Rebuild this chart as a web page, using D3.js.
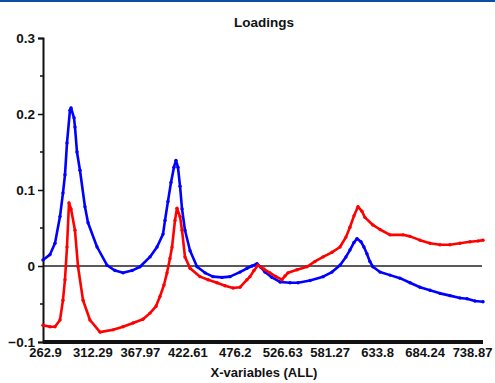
<!DOCTYPE html>
<html>
<head>
<meta charset="utf-8">
<script src="https://cdn.jsdelivr.net/npm/d3@7"></script>
<style>
  html, body { margin: 0; padding: 0; background: #fff; }
  svg { display: block; font-family: Arial, "Liberation Sans", sans-serif; }
</style>
</head>
<body>
<svg id="chart" width="495" height="383"></svg>
<script>
// ---- data ----
const title = "Loadings";
const xTitle = "X-variables (ALL)";
const xTickValues = [262.9, 312.29, 367.97, 422.61, 476.2, 526.63, 581.27, 633.8, 684.24, 738.87];
const yTickValues = [-0.1, 0, 0.1, 0.2, 0.3];
const yMinorTicks = [-0.05, 0.05, 0.15, 0.25];

const blueX = [260.8, 268.1, 273.3, 278.5, 281.6, 283.7, 285.8, 288.9, 290.0, 293.1, 294.1, 296.2, 299.3, 304.5, 307.7,
  317.7, 329.4, 338.8, 348.2, 358.8, 368.1, 379.6, 387.7, 394.6, 396.9, 400.3, 403.8, 407.2, 409.5, 411.8, 414.2, 416.5, 419.9,
  425.7, 433.6, 442.6, 451.6, 461.8, 470.8, 481.7, 489.2, 494.5, 499.8, 504.1, 508.3, 515.7, 524.3, 535.6, 544.8, 558.7, 573.7,
  583.8, 592.7, 599.3, 603.7, 608.2, 611.5, 615.9, 619.2, 622.5, 625.8, 629.1, 636.9, 647.5, 658.1, 668.8, 679.4, 690.5, 702.0,
  713.5, 725.0, 733.1, 742.3, 751.5];
const blueY = [0.008, 0.015, 0.03, 0.065, 0.096, 0.12, 0.162, 0.205, 0.208, 0.195, 0.183, 0.15, 0.126, 0.078, 0.057,
  0.025, 0.001, -0.006, -0.009, -0.006, -0.001, 0.012, 0.025, 0.042, 0.06, 0.085, 0.11, 0.13, 0.139, 0.13, 0.105, 0.075, 0.047,
  0.02, -0.001, -0.009, -0.014, -0.015, -0.014, -0.008, -0.003, 0.0, 0.003, -0.002, -0.008, -0.015, -0.021, -0.022, -0.022, -0.019, -0.014,
  -0.008, 0.001, 0.012, 0.021, 0.031, 0.036, 0.032, 0.025, 0.016, 0.006, -0.001, -0.008, -0.012, -0.016, -0.022, -0.028, -0.032, -0.036,
  -0.039, -0.042, -0.043, -0.046, -0.047];

const redX = [260.8, 268.1, 273.3, 278.5, 281.6, 283.7, 285.8, 287.9, 290.0, 294.1, 297.3, 302.5, 309.7,
  321.2, 336.5, 348.2, 360.0, 371.5, 379.6, 386.5, 391.1, 395.7, 399.2, 402.6, 405.0, 408.4, 410.7, 414.2, 416.5, 419.9,
  425.7, 437.0, 446.0, 456.1, 465.2, 474.2, 481.7, 489.2, 492.4, 496.6, 500.9, 507.2, 513.6, 520.0, 526.4,
  529.9, 533.3, 543.7, 555.2, 564.4, 573.7, 583.8, 592.7, 599.3, 603.7, 608.2, 612.6, 617.0, 620.3, 629.1, 636.9, 647.5,
  661.3, 668.8, 679.4, 690.5, 702.0, 713.5, 725.0, 736.6, 745.8, 751.5];
const redY = [-0.078, -0.08, -0.08, -0.071, -0.045, -0.018, 0.025, 0.083, 0.075, 0.047, -0.001, -0.045, -0.071,
  -0.087, -0.084, -0.08, -0.075, -0.07, -0.062, -0.053, -0.04, -0.025, -0.009, 0.01, 0.025, 0.06, 0.076, 0.065, 0.047, 0.012,
  -0.003, -0.014, -0.018, -0.022, -0.026, -0.029, -0.028, -0.018, -0.014, -0.006, 0.001, -0.004, -0.009, -0.014, -0.018,
  -0.013, -0.009, -0.005, -0.001, 0.006, 0.012, 0.018, 0.025, 0.038, 0.051, 0.066, 0.078, 0.072, 0.064, 0.054, 0.048, 0.041,
  0.041, 0.039, 0.034, 0.03, 0.028, 0.028, 0.03, 0.032, 0.033, 0.034];

// ---- layout ----
const svg = d3.select("#chart");
const W = 495, H = 383;
const plotLeft = 43, plotRight = 483, plotTop = 38, plotBottom = 342;
const tickStart = 45, tickEnd = 472;
const FONT = "Arial, Liberation Sans, sans-serif";

// piecewise-linear x scale: tick labels are evenly spaced (variable index based)
const step = (tickEnd - tickStart) / (xTickValues.length - 1);
const xDomain = [260.8].concat(xTickValues, [751.5]);
const xRange = [plotLeft].concat(xTickValues.map((d, i) => tickStart + i * step), [plotRight]);
const x = d3.scaleLinear().domain(xDomain).range(xRange);
const y = d3.scaleLinear().domain([-0.1, 0.3]).range([plotBottom, plotTop]);

// top blue border
svg.append("rect").attr("x", 0).attr("y", 0).attr("width", W).attr("height", 2).attr("fill", "#0a4fa0");

// title
svg.append("text").attr("x", 264).attr("y", 27).attr("text-anchor", "middle")
  .attr("font-size", 13.5).attr("font-weight", "bold").attr("fill", "#111").text(title);

// zero line
svg.append("line").attr("x1", plotLeft).attr("x2", 482).attr("y1", y(0)).attr("y2", y(0))
  .attr("stroke", "#222").attr("stroke-width", 1.3);

// y axis
const yAxis = d3.axisLeft(y).tickValues(yTickValues).tickSize(5).tickPadding(3)
  .tickFormat(d => d === 0 ? "0" : d3.format(".1f")(d));
const gy = svg.append("g").attr("transform", `translate(${plotLeft},0)`).call(yAxis);
gy.select(".domain").attr("stroke", "#111").attr("stroke-width", 2);
gy.selectAll(".tick line").attr("stroke", "#111").attr("stroke-width", 1.5);
gy.selectAll(".tick text").attr("font-size", 13.5).attr("font-weight", "bold").attr("fill", "#111")
  .attr("font-family", FONT);
svg.append("g").selectAll("line").data(yMinorTicks).join("line")
  .attr("x1", plotLeft - 3).attr("x2", plotLeft).attr("y1", d => y(d)).attr("y2", d => y(d))
  .attr("stroke", "#111").attr("stroke-width", 1.5);

// series
const line = d3.line().x(d => x(d[0])).y(d => y(d[1])).curve(d3.curveLinear);
const blueData = blueX.map((v, i) => [v, blueY[i]]);
const redData = redX.map((v, i) => [v, redY[i]]);

function drawSeries(data, color) {
  svg.append("path").datum(data).attr("d", line).attr("fill", "none")
    .attr("stroke", color).attr("stroke-width", 2.6).attr("stroke-linejoin", "round").attr("stroke-linecap", "round");
  svg.append("g").selectAll("circle").data(data).join("circle")
    .attr("cx", d => x(d[0])).attr("cy", d => y(d[1])).attr("r", 1.7).attr("fill", color);
}
drawSeries(blueData, "#0000ff");
drawSeries(redData, "#ff0000");

// x axis (thick bar)
const xAxis = d3.axisBottom(x).tickValues(xTickValues).tickSize(0).tickPadding(6)
  .tickFormat(d => String(d));
const gx = svg.append("g").attr("transform", `translate(0,${plotBottom})`).call(xAxis);
gx.select(".domain").remove();
svg.append("line").attr("x1", plotLeft).attr("x2", plotRight).attr("y1", plotBottom).attr("y2", plotBottom)
  .attr("stroke", "#111").attr("stroke-width", 4);
gx.selectAll(".tick text").attr("font-size", 13).attr("font-weight", "bold").attr("fill", "#111")
  .attr("font-family", FONT);

// x title
svg.append("text").attr("x", 264).attr("y", 377).attr("text-anchor", "middle")
  .attr("font-size", 13).attr("font-weight", "bold").attr("fill", "#111").text(xTitle);
</script>
</body>
</html>
